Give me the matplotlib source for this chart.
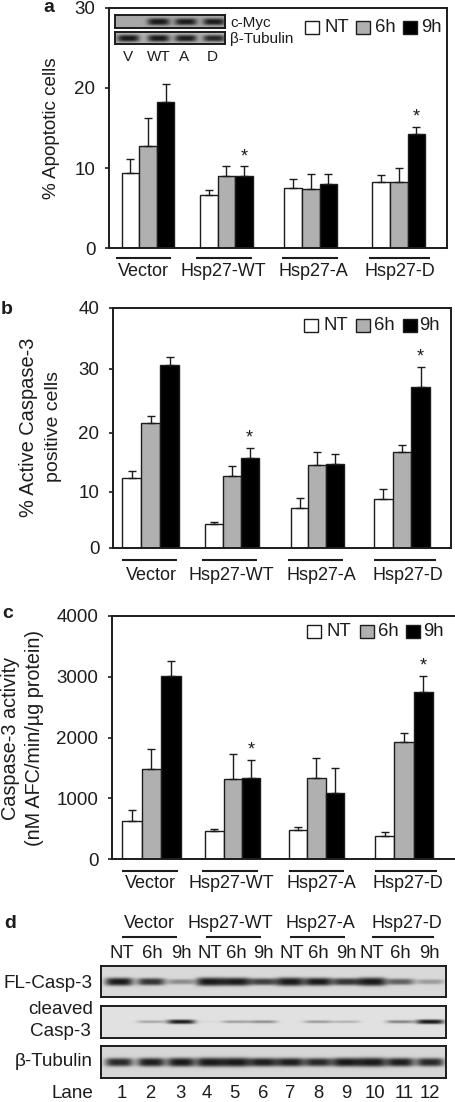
import numpy as np
import matplotlib
matplotlib.use("Agg")
import matplotlib.pyplot as plt
from matplotlib.patches import Rectangle

plt.rcParams['font.family'] = ['Liberation Sans', 'DejaVu Sans']

W, H = 456, 1102
GROUPS = ["Vector", "Hsp27-WT", "Hsp27-A", "Hsp27-D"]
TIMES = ["NT", "6h", "9h"]
COLORS = ["white", "#b0b0b0", "black"]
DARK = "#1c1c1c"

# panel a, % apoptotic cells
a_nt = [9.4, 6.6, 7.5, 8.2]
a_6h = [12.8, 9.0, 7.4, 8.3]
a_9h = [18.2, 9.0, 8.0, 14.2]
a_nt_err = [1.7, 0.6, 1.1, 0.9]
a_6h_err = [3.5, 1.3, 1.8, 1.7]
a_9h_err = [2.3, 1.2, 1.2, 0.9]

# panel b, % active caspase-3 positive cells
b_nt = [12.4, 4.3, 7.2, 8.8]
b_6h = [21.5, 12.7, 14.5, 16.7]
b_9h = [30.6, 15.8, 14.8, 27.2]
b_nt_err = [1.2, 0.4, 1.7, 1.7]
b_6h_err = [1.2, 1.7, 2.2, 1.2]
b_9h_err = [1.3, 1.7, 1.7, 3.2]

# panel c, caspase-3 activity
c_nt = [630, 460, 470, 380]
c_6h = [1480, 1310, 1340, 1925]
c_9h = [3015, 1330, 1085, 2750]
c_nt_err = [180, 40, 50, 65]
c_6h_err = [335, 415, 325, 155]
c_9h_err = [250, 300, 405, 270]

# band strength per lane in the blots
fl_casp = [0.9, 0.75, 0.35, 1.0, 0.95, 0.7, 1.0, 0.9, 0.75, 1.0, 0.55, 0.28]
cl_casp = [0.0, 0.25, 0.85, 0.03, 0.28, 0.35, 0.0, 0.3, 0.2, 0.0, 0.4, 0.9]
tub_blot = [0.8, 0.85, 0.9, 0.95, 0.95, 0.85, 0.85, 0.8, 0.9, 0.95, 0.85, 0.8]
inset_myc = [0.0, 0.9, 0.85, 0.85]
inset_tub = [0.9, 0.9, 0.85, 0.8]

time_labels = TIMES * 4
lane_labels = [str(i) for i in range(1, 13)]
inset_labels = ["V", "WT", "A", "D"]

fig = plt.figure(figsize=(W / 100, H / 100), dpi=100)


def px_axes(l, t, r, b):
    return fig.add_axes([l / W, 1 - b / H, (r - l) / W, (b - t) / H])


# full page axes in picture pixels for the text and underlines
page = fig.add_axes([0, 0, 1, 1], zorder=10)
page.set_xlim(0, W)
page.set_ylim(H, 0)
page.axis("off")
page.patch.set_alpha(0)


def label(x, y, s, size=13, ha="center", **kw):
    page.text(x, y, s, fontsize=size, ha=ha, va="center", color=DARK, **kw)


def bar_panel(box, ymax, ticks, series, errors, spans, stars, right=True, tick_px=None):
    ax = px_axes(*box)
    for i in range(3):
        x, w = [], []
        for l, r in spans:
            w.append((r - l) / 3)
            x.append(l + i * (r - l) / 3)
        x = np.array(x)
        w = np.array(w)
        ax.bar(x, series[i], w, align="edge", color=COLORS[i], edgecolor=DARK, linewidth=1.0)
        ax.errorbar(x + w / 2, series[i], yerr=[np.zeros(4), errors[i]], fmt="none",
                    ecolor=DARK, elinewidth=1.0, capsize=2.6, capthick=1.0)
    # asterisks over the 9h bars
    for g in stars:
        l, r = spans[g]
        top = series[2][g] + errors[2][g]
        ax.annotate("*", (r - (r - l) / 6, top), xytext=(0, 7), textcoords="offset points",
                    ha="center", va="center", fontsize=13, color=DARK)
    if tick_px is not None:
        # the axis of the picture is not evenly spaced
        ax.set_yscale("function", functions=(lambda v: np.interp(v, ticks, tick_px),
                                             lambda p: np.interp(p, tick_px, ticks)))
    ax.set_xlim(box[0], box[2])
    ax.set_ylim(0, ymax)
    ax.set_xticks([])
    ax.set_yticks(ticks)
    ax.minorticks_off()
    ax.tick_params(axis="y", length=3, width=1.2, pad=6.8, labelsize=13.5, color=DARK, labelcolor=DARK)
    for s in ax.spines.values():
        s.set_linewidth(1.4)
        s.set_color(DARK)
    ax.spines["right"].set_visible(right)
    return ax


def legend(boxes, texts, y, size=15, fs=13.3):
    for x, c in zip(boxes, COLORS):
        page.add_patch(Rectangle((x, y - size / 2 + 1), size - 1, size - 2, facecolor=c, edgecolor=DARK, lw=1.0))
    for x, t in zip(texts, TIMES):
        label(x, y, t, size=fs, ha="left")


def group_text(centers, y, lines, line_y):
    for c, g, (l, r) in zip(centers, GROUPS, lines):
        page.plot([l, r], [line_y, line_y], color=DARK, lw=1.5, solid_capstyle="butt")
        label(c, y, g)


def blot(box, strengths, centers, bg, half_w=14, half_h=3.0):
    l, t, r, b = box
    ax = px_axes(l, t, r, b)
    xs = np.arange(l, r, 0.5)
    ys = np.arange(t, b, 0.5)
    xx, yy = np.meshgrid(xs, ys)
    img = np.full(xx.shape, float(bg))
    ymid = (t + b) / 2
    for s, c in zip(strengths, centers):
        thick = half_h * (0.45 + 0.6 * s)
        band = np.exp(-((xx - c) / half_w) ** 4) * np.exp(-np.abs((yy - ymid) / thick) ** 3)
        img -= min(s * 1.15, 1.0) * band * (bg - 0.1)
    ax.imshow(img, cmap="gray", vmin=0, vmax=1, aspect="auto", interpolation="bilinear")
    ax.set_xticks([])
    ax.set_yticks([])
    for sp in ax.spines.values():
        sp.set_linewidth(1.4)
        sp.set_color(DARK)
    return ax


# panel a
bar_panel((109, 8, 447, 248), 30, [0, 10, 20, 30],
          [a_nt, a_6h, a_9h], [a_nt_err, a_6h_err, a_9h_err],
          [(121.7, 174.3), (200, 253), (284.3, 337.3), (372.3, 425.3)], [1, 3])
group_text([143, 223, 313, 400], 272, [(116, 171), (196, 252), (282, 338), (369, 430)], 258)
legend([305, 356, 403], [325, 375, 421], 27)
label(52, 128, "% Apoptotic cells", size=13.6, rotation=90)
label(43, 7, "a", size=14, ha="left", fontweight="bold")

# inset blots of panel a
inset_x = [128, 158, 185, 213]
blot((115, 15, 225, 28), inset_myc, inset_x, 0.66, half_w=11, half_h=3.5)
blot((115, 32, 225, 44), inset_tub, inset_x, 0.7, half_w=11, half_h=3.5)
label(230, 23, "c-Myc", size=11, ha="left")
label(230, 39, "β-Tubulin", size=11, ha="left")
for x, t in zip([128, 159, 184, 212], inset_labels):
    label(x, 57, t, size=11)

# panel b
bar_panel((113, 308, 451, 548), 40, [0, 10, 20, 30, 40],
          [b_nt, b_6h, b_9h], [b_nt_err, b_6h_err, b_9h_err],
          [(122.3, 179), (204.7, 258.7), (290.7, 344), (374, 430)], [1, 3],
          tick_px=[0, 56, 115, 179, 240])
group_text([151, 231, 321, 408], 576, [(122, 177), (202, 257), (288, 343), (374, 436)], 560)
legend([304, 356, 403], [324, 374, 419], 325)
label(29, 427, "% Active Caspase-3", size=14.4, rotation=90)
label(54, 427, "positive cells", size=14, rotation=90)
label(1, 310, "b", size=14, ha="left", fontweight="bold")

# panel c
bar_panel((112, 616, 456, 859), 4000, [0, 1000, 2000, 3000, 4000],
          [c_nt, c_6h, c_9h], [c_nt_err, c_6h_err, c_9h_err],
          [(121.7, 181.3), (205.3, 260), (289.3, 343.7), (375, 433)], [1, 3], right=False)
group_text([150, 231, 321, 408], 884, [(122, 178), (202, 258), (289, 344), (375, 437)], 871)
legend([307, 360, 406], [327, 378, 423], 631)
label(11, 738, "Caspase-3 activity", size=14.3, rotation=90)
label(35, 738, "(nM AFC/min/µg protein)", size=14.2, rotation=90)
label(2, 613, "c", size=14, ha="left", fontweight="bold")

# panel d
group_text([149, 230, 320, 407], 924, [(122, 177), (206, 261), (290, 345), (372, 434)], 937)
time_x = [122, 152, 181, 210, 236, 263, 292, 318, 346, 372, 400, 429]
for x, t in zip(time_x, time_labels):
    label(x, 954, t, size=13.3)
lane_x = [122, 150, 180, 207, 234, 263, 290, 318, 346, 375, 404, 430]
for x, t in zip(lane_x, lane_labels):
    label(x, 1094, t, size=13.3)
band_x = [119, 151, 181, 210, 236, 263, 290, 318, 346, 372, 400, 430]
blot((101, 966, 446, 997), fl_casp, band_x, 0.85, half_h=4)
blot((101, 1006, 446, 1038), cl_casp, band_x, 0.88, half_h=2.2)
blot((101, 1046, 446, 1078), tub_blot, band_x, 0.84, half_h=4.5)
label(93, 983, "FL-Casp-3", size=13.6, ha="right")
label(93, 1010, "cleaved", size=13.6, ha="right")
label(91, 1032, "Casp-3", size=13.6, ha="right")
label(93, 1062, "β-Tubulin", size=13.6, ha="right")
label(93, 1094, "Lane", size=13.6, ha="right")
label(4, 924, "d", size=14, ha="left", fontweight="bold")

fig.savefig("out.png", dpi=100)
